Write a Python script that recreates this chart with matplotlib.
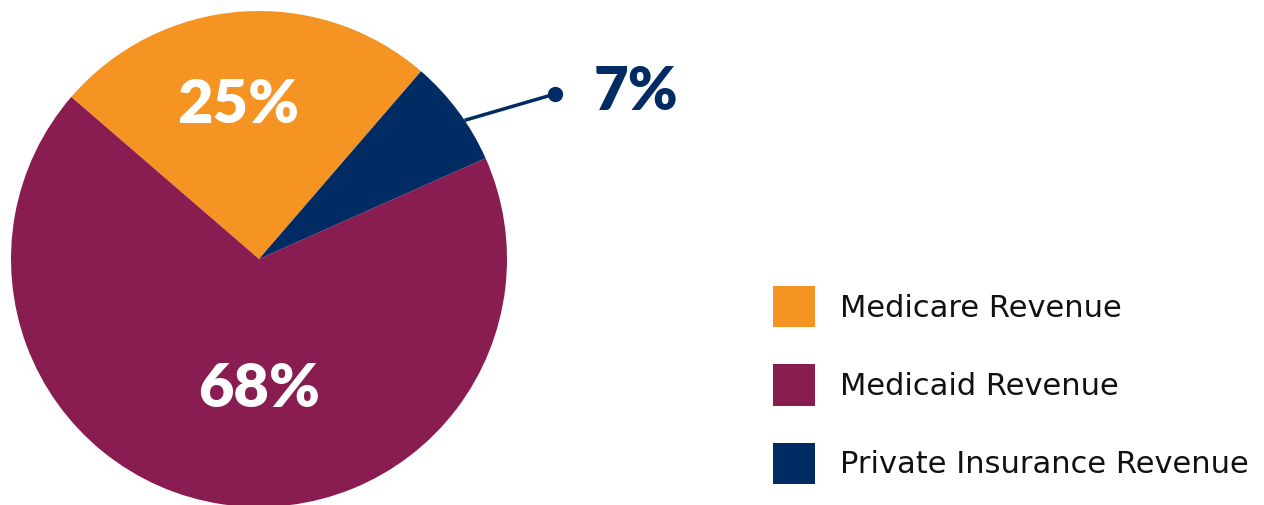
import numpy as np
import matplotlib
matplotlib.use("Agg")
import matplotlib.pyplot as plt

categories = ["Medicare Revenue", "Medicaid Revenue", "Private Insurance Revenue"]
shares = [25, 68, 7]
pct_labels = ["25%", "68%", "7%"]
colors = ["#F59422", "#891C51", "#002B63"]

W, H = 1264, 505
fig = plt.figure(figsize=(W / 100, H / 100), dpi=100)
fig.patch.set_facecolor("white")

cx, cy, r = 259, 505 - 259, 248
ax = fig.add_axes([(cx - r) / W, (cy - r) / H, 2 * r / W, 2 * r / H])
wedges, _ = ax.pie(shares, colors=colors, startangle=49.2, counterclock=True,
                   radius=1.0, wedgeprops=dict(linewidth=0))
ax.set_xlim(-1, 1)
ax.set_ylim(-1, 1)
ax.set_aspect("equal")
ax.axis("off")

bold = dict(family="Lato", fontweight="heavy", color="white", fontsize=44,
            ha="center", va="center")
ax.text(-0.085, 0.62, pct_labels[0], **bold)
ax.text(0.0, -0.525, pct_labels[1], **bold)

# 7% callout
ang = np.deg2rad(34)
x0, y0 = np.cos(ang), np.sin(ang)
x1, y1 = 296 / r, 165 / r
ax.plot([x0, x1], [y0, y1], color=colors[2], lw=2.5, clip_on=False,
        solid_capstyle="butt")
ax.plot([x1], [y1], "o", color=colors[2], ms=10, clip_on=False)
ax.text(x1 + 39 / r, y1 + 2 / r, pct_labels[2], family="Lato", fontweight="heavy",
        color=colors[2], fontsize=43, ha="left", va="center", clip_on=False)

fs = 22
fspx = fs * 100 / 72
leg = fig.legend(wedges, categories, loc="upper left",
                 bbox_to_anchor=(773 / W, 1 - 286 / H),
                 frameon=False, borderpad=0, borderaxespad=0,
                 handlelength=42 / fspx, handleheight=52 / fspx,
                 handletextpad=25 / fspx, labelspacing=37 / fspx,
                 prop=dict(family="DejaVu Sans", size=fs))
for t in leg.get_texts():
    t.set_color("#111111")

fig.savefig("out.png", dpi=100)
